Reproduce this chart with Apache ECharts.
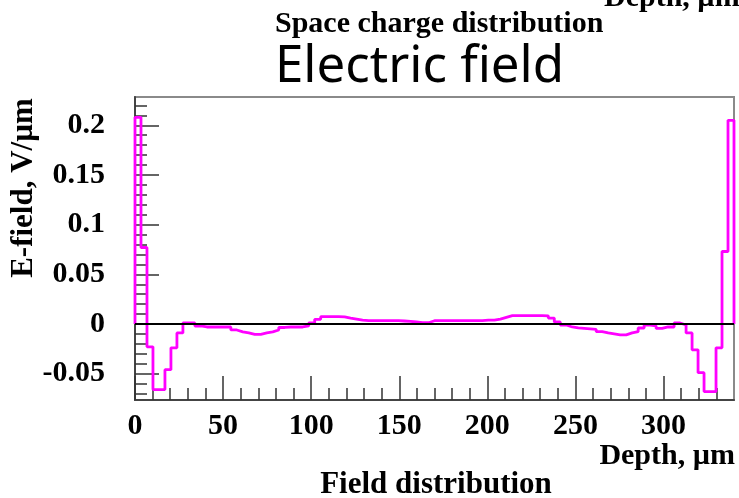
<!DOCTYPE html>
<html>
<head>
<meta charset="utf-8">
<script src="https://cdn.jsdelivr.net/npm/echarts@6/dist/echarts.min.js"></script>
<style>
  html, body { margin: 0; padding: 0; background: #fff; }
  #main { width: 739px; height: 498px; }
</style>
</head>
<body>
<div id="main"></div>
<script>
// histogram: 100 bins over 0..340 um
const binWidth = 3.4
const fieldValues = [
  0.208, 0.077, -0.023, -0.066, -0.066, -0.046, -0.024, -0.009, 0.001, 0.001,
  -0.002, -0.003, -0.003, -0.003, -0.003, -0.003, -0.006, -0.008, -0.009, -0.0105,
  -0.0105, -0.009, -0.008, -0.006, -0.0035, -0.003, -0.003, -0.003, -0.002, 0.001,
  0.0047, 0.0074, 0.0074, 0.0074, 0.0072, 0.006, 0.005, 0.004, 0.0033, 0.0033,
  0.0033, 0.0033, 0.0033, 0.0033, 0.003, 0.0027, 0.002, 0.0013, 0.0013, 0.0033,
  0.0033, 0.0033, 0.0033, 0.0033, 0.0033, 0.0033, 0.0033, 0.0035, 0.004, 0.004,
  0.005, 0.0067, 0.0084, 0.0084, 0.0084, 0.0084, 0.0084, 0.0084, 0.0082, 0.006,
  0.002, -0.001, -0.003, -0.004, -0.0045, -0.005, -0.0055, -0.0077, -0.009, -0.010,
  -0.011, -0.011, -0.009, -0.0077, -0.004, -0.001, -0.002, -0.0045, -0.003, -0.003,
  0.001, -0.001, -0.009, -0.026, -0.049, -0.068, -0.068, -0.024, 0.073, 0.205
]
const xMajorTicks = [0, 50, 100, 150, 200, 250, 300]
const xMinorTicks = [10, 20, 30, 40, 60, 70, 80, 90, 110, 120, 130, 140, 160, 170, 180, 190,
  210, 220, 230, 240, 260, 270, 280, 290, 310, 320, 330]
const yMajorTicks = [-0.05, 0, 0.05, 0.1, 0.15, 0.2]
const yMinorTicks = [-0.07, -0.06, -0.04, -0.03, -0.02, -0.01, 0.01, 0.02, 0.03, 0.04,
  0.06, 0.07, 0.08, 0.09, 0.11, 0.12, 0.13, 0.14, 0.16, 0.17, 0.18, 0.19, 0.21, 0.22]
const yLabelText = { '-0.05': '-0.05', '0': '0', '0.05': '0.05', '0.1': '0.1', '0.15': '0.15', '0.2': '0.2' }

const xMin = 0, xMax = 340
const yMin = -0.0765, yMax = 0.2285

// step line points: start and end at the baseline like a histogram
let histPoints = [[0, 0]]
fieldValues.forEach((v, i) => histPoints.push([i * binWidth, v]))
histPoints.push([fieldValues.length * binWidth, fieldValues[fieldValues.length - 1]])
histPoints.push([fieldValues.length * binWidth, 0])

const serif = 'Liberation Serif'
const tickStyle = { color: '#333', width: 1.5 }

let chart = echarts.init(document.getElementById('main'))
chart.setOption({
  animation: false,
  grid: {
    left: 135, right: 5, top: 97, bottom: 98,
    show: true, borderColor: '#8a8a8a', borderWidth: 2, backgroundColor: '#fff'
  },
  xAxis: [
    {
      type: 'value', min: xMin, max: xMax,
      axisLine: { show: true, onZero: false, lineStyle: { color: '#444', width: 2 } },
      axisTick: { show: true, inside: true, length: 24, customValues: xMajorTicks, lineStyle: tickStyle },
      axisLabel: {
        customValues: xMajorTicks, margin: 11,
        fontFamily: serif, fontWeight: 'bold', fontSize: 30, color: '#000'
      },
      splitLine: { show: false }
    },
    {
      type: 'value', min: xMin, max: xMax, position: 'bottom',
      axisLine: { show: false, onZero: false },
      axisTick: { show: true, inside: true, length: 12, customValues: xMinorTicks, lineStyle: tickStyle },
      axisLabel: { show: false },
      splitLine: { show: false }
    }
  ],
  yAxis: [
    {
      type: 'value', min: yMin, max: yMax,
      axisLine: { show: true, onZero: false, lineStyle: { color: '#444', width: 2 } },
      axisTick: { show: true, inside: true, length: 24, customValues: yMajorTicks, lineStyle: tickStyle },
      axisLabel: {
        customValues: yMajorTicks, margin: 30,
        formatter: v => yLabelText[String(Math.round(v * 100) / 100)] || String(v),
        fontFamily: serif, fontWeight: 'bold', fontSize: 30, color: '#000'
      },
      splitLine: { show: false }
    },
    {
      type: 'value', min: yMin, max: yMax, position: 'left',
      axisLine: { show: false, onZero: false },
      axisTick: { show: true, inside: true, length: 12, customValues: yMinorTicks, lineStyle: tickStyle },
      axisLabel: { show: false },
      splitLine: { show: false }
    }
  ],
  series: [
    {
      type: 'line',
      step: 'end',
      data: histPoints,
      showSymbol: false,
      clip: true,
      lineStyle: { color: '#ff00ff', width: 2.8 },
      markLine: {
        silent: true,
        symbol: ['none', 'none'],
        label: { show: false },
        lineStyle: { color: '#000', width: 2.2, type: 'solid' },
        data: [{ yAxis: 0 }]
      }
    }
  ],
  graphic: [
    {
      type: 'text', left: 604, top: -17,
      style: { text: 'Depth, µm', font: 'bold 30px "Liberation Serif"', fill: '#000' }
    },
    {
      type: 'text', left: 275, top: 9,
      style: { text: 'Space charge distribution', font: 'bold 30px "Liberation Serif"', fill: '#000' }
    },
    {
      type: 'text', left: 275, top: 42,
      style: { text: 'Electric field', font: '51px "Noto Sans"', fill: '#000' }
    },
    {
      type: 'text', x: 24, y: 188, rotation: Math.PI / 2,
      style: {
        text: 'E-field, V/µm', font: 'bold 31px "Liberation Serif"', fill: '#000',
        align: 'center', verticalAlign: 'middle'
      }
    },
    {
      type: 'text', x: 735, y: 456,
      style: {
        text: 'Depth, µm', font: 'bold 30px "Liberation Serif"', fill: '#000',
        align: 'right', verticalAlign: 'middle'
      }
    },
    {
      type: 'text', x: 436, y: 485,
      style: {
        text: 'Field distribution', font: 'bold 31px "Liberation Serif"', fill: '#000',
        align: 'center', verticalAlign: 'middle'
      }
    }
  ]
})
</script>
</body>
</html>
